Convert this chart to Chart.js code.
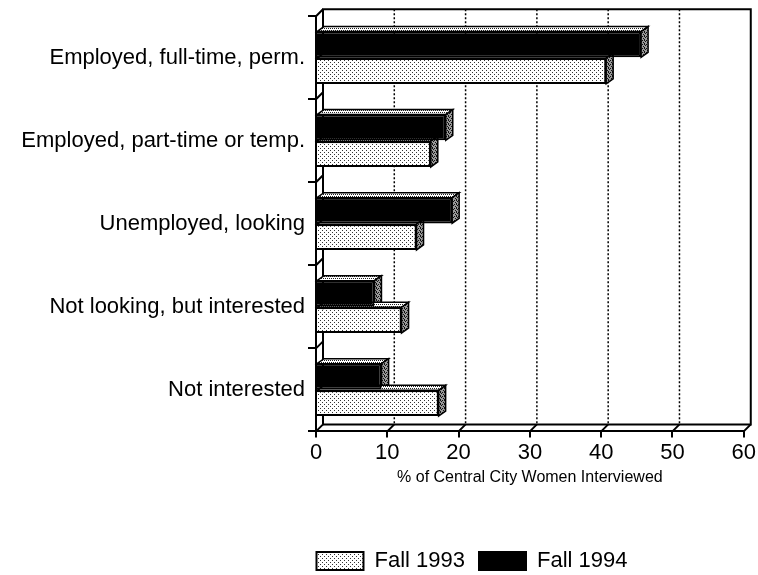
<!DOCTYPE html>
<html>
<head>
<meta charset="utf-8">
<script src="https://cdn.jsdelivr.net/npm/chart.js@4/dist/chart.umd.min.js"></script>
<style>
  html, body { margin: 0; padding: 0; background: #fff; }
</style>
</head>
<body>
<canvas id="workChart" width="758" height="575"></canvas>
<script>
const categories = [
  "Employed, full-time, perm.",
  "Employed, part-time or temp.",
  "Unemployed, looking",
  "Not looking, but interested",
  "Not interested"
];
const fall1993 = [40.7, 16.1, 14.1, 12.0, 17.2];
const fall1994 = [45.6, 18.2, 19.1, 8.2, 9.2];
const xTicks = [0, 10, 20, 30, 40, 50, 60];

// stipple fills like the printed original
function dots(bg, fg, cells) {
  const c = document.createElement("canvas");
  c.width = 4; c.height = 4;
  const g = c.getContext("2d");
  g.fillStyle = bg; g.fillRect(0, 0, 4, 4);
  g.fillStyle = fg;
  cells.forEach(([cx, cy]) => g.fillRect(cx, cy, 1, 1));
  return g.createPattern(c, "repeat");
}
const lightDots = dots("#fff", "#333", [[0, 0], [2, 2]]);
const midDots = dots("#fff", "#222", [[0, 0], [2, 0], [1, 2], [3, 2]]);
const darkDots = dots("#999", "#111", [[0, 0], [2, 0], [1, 1], [3, 2], [0, 3]]);

const topFill = [midDots, midDots];   // 1994, 1993
const sideFill = [darkDots, darkDots];

const frameDepth = 7;
const barDx = 7, barDy = 5;

// let the long category names spill left of the axis box, nudge legend down
const spill = {
  id: "spill",
  afterLayout(chart) {
    chart.scales.y.left = 0;
    chart.legend.top += 7;
    chart.legend.bottom += 7;
  }
};

const threeD = {
  id: "threeD",
  beforeDatasetsDraw(chart) {
    const { ctx, chartArea: a, scales: { x, y } } = chart;
    const d = frameDepth;
    ctx.save();
    ctx.strokeStyle = "#000";
    ctx.lineWidth = 2;

    // back wall outline
    ctx.beginPath();
    ctx.moveTo(a.left + d, a.bottom - d);
    ctx.lineTo(a.left + d, a.top - d);
    ctx.lineTo(a.right + d, a.top - d);
    ctx.lineTo(a.right + d, a.bottom - d);
    ctx.lineTo(a.left + d, a.bottom - d);
    ctx.stroke();

    // floor connectors
    ctx.beginPath();
    xTicks.forEach(v => {
      const px = x.getPixelForValue(v);
      ctx.moveTo(px, a.bottom);
      ctx.lineTo(px + d, a.bottom - d);
    });
    // left wall connectors at category edges
    const step = y.getPixelForValue(1) - y.getPixelForValue(0);
    for (let i = 0; i <= categories.length; i++) {
      const py = y.getPixelForValue(0) - step / 2 + i * step;
      ctx.moveTo(a.left, py);
      ctx.lineTo(a.left + d, py - d);
    }
    ctx.stroke();

    // dotted grid on back wall
    ctx.setLineDash([2, 2]);
    ctx.lineWidth = 1.5;
    ctx.beginPath();
    xTicks.slice(1, -1).forEach(v => {
      const px = x.getPixelForValue(v) + d;
      ctx.moveTo(px, a.top - d);
      ctx.lineTo(px, a.bottom - d);
    });
    ctx.stroke();
    ctx.setLineDash([]);

    // bar tops and ends
    ctx.lineWidth = 1.5;
    chart.data.datasets.forEach((ds, di) => {
      chart.getDatasetMeta(di).data.forEach(bar => {
        const p = bar.getProps(["x", "y", "base", "height"], true);
        const t = p.y - p.height / 2, b = p.y + p.height / 2;
        const faces = [
          [[[p.base, t], [p.base + barDx, t - barDy], [p.x + barDx, t - barDy], [p.x, t]], topFill[di]],
          [[[p.x, t], [p.x + barDx, t - barDy], [p.x + barDx, b - barDy], [p.x, b]], sideFill[di]]
        ];
        faces.forEach(([pts, fill]) => {
          ctx.beginPath();
          pts.forEach(([px, py], k) => k ? ctx.lineTo(px, py) : ctx.moveTo(px, py));
          ctx.closePath();
          ctx.fillStyle = fill;
          ctx.fill();
          ctx.stroke();
        });
      });
    });
    ctx.restore();
  }
};

Chart.defaults.font.family = "'Liberation Sans', Arial, sans-serif";
Chart.defaults.color = "#000";

new Chart(document.getElementById("workChart"), {
  type: "bar",
  data: {
    labels: categories,
    datasets: [
      {
        label: "Fall 1994",
        data: fall1994,
        backgroundColor: "#000",
        borderColor: "#000",
        borderWidth: 2,
        barPercentage: 0.97,
        categoryPercentage: 0.64
      },
      {
        label: "Fall 1993",
        data: fall1993,
        backgroundColor: lightDots,
        borderColor: "#000",
        borderWidth: 2,
        barPercentage: 0.97,
        categoryPercentage: 0.64
      }
    ]
  },
  options: {
    indexAxis: "y",
    responsive: false,
    animation: false,
    layout: { padding: { left: 197, right: 11, top: 14, bottom: 0 } },
    plugins: {
      tooltip: { enabled: false },
      legend: {
        position: "bottom",
        reverse: true,
        labels: {
          boxWidth: 47,
          boxHeight: 18,
          padding: 14,
          color: "#000",
          font: { size: 22 }
        }
      }
    },
    scales: {
      x: {
        min: 0,
        max: 60,
        afterBuildTicks: s => { s.ticks = xTicks.map(v => ({ value: v })); },
        ticks: { color: "#000", font: { size: 22 }, padding: 2 },
        grid: { drawOnChartArea: false, drawTicks: true, tickLength: 6, color: "#000", lineWidth: 2 },
        border: { display: true, color: "#000", width: 2 },
        title: {
          display: true,
          text: "% of Central City Women Interviewed",
          color: "#000",
          font: { size: 16 },
          padding: { top: 0, bottom: 42 }
        }
      },
      y: {
        afterFit: s => { s.width = 119; },
        ticks: { color: "#000", font: { size: 22 }, padding: 3 },
        grid: { offset: true, drawOnChartArea: false, tickLength: 8, color: "#000", lineWidth: 2 },
        border: { display: true, color: "#000", width: 2 }
      }
    }
  },
  plugins: [spill, threeD]
});
</script>
</body>
</html>
